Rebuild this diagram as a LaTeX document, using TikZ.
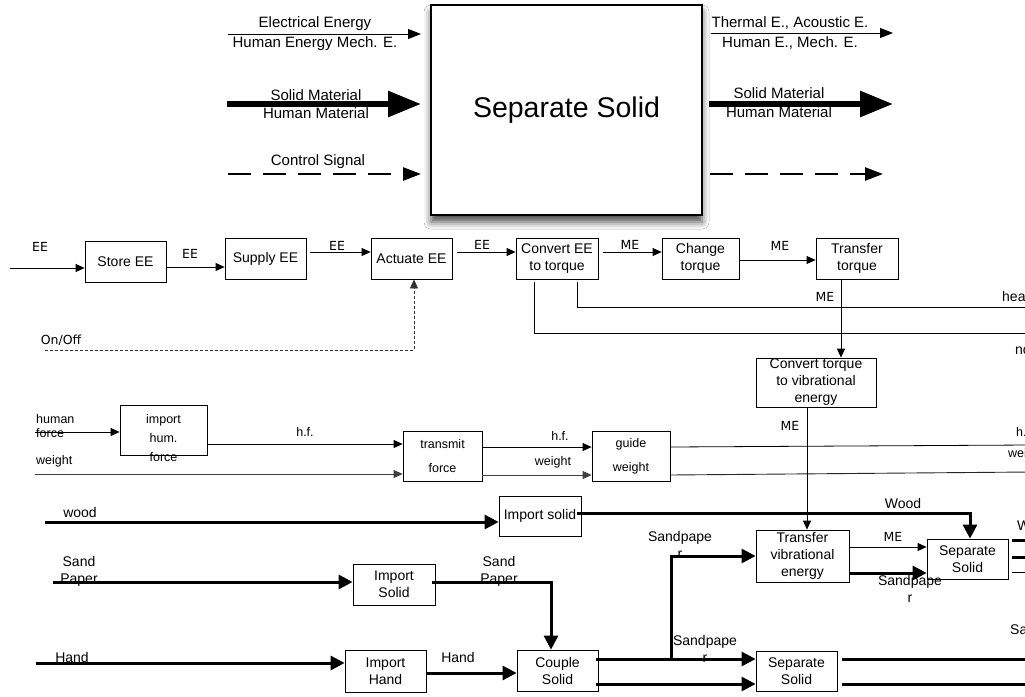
\documentclass[tikz,border=0pt]{standalone}
\usepackage{fontspec}
\setmainfont{Liberation Sans}
\newfontfamily\dejavu{DejaVu Sans}
\usetikzlibrary{arrows.meta,calc,shadows.blur}
\begin{document}
\begin{tikzpicture}[x=1pt,y=-1pt,
 box/.style={draw, line width=0.8pt, fill=white, inner sep=0pt, align=center, font=\fontsize{14}{17}\selectfont},
 lbl/.style={font=\fontsize{14}{17}\selectfont, inner sep=0pt, align=center},
 toplbl/.style={font=\fontsize{15}{17}\selectfont, inner sep=0pt},
 sm/.style={font=\fontsize{12.5}{14}\selectfont, inner sep=0pt, align=center},
 dv/.style={font=\dejavu\fontsize{12.5}{14}\selectfont, inner sep=0pt},
 farr/.style={line width=0.8pt, -{Triangle[length=9pt,width=8pt]}},
 fline/.style={line width=0.8pt},
 barr/.style={line width=3pt, -{Triangle[length=14pt,width=14pt]}},
 bline/.style={line width=3pt},
]
\useasboundingbox[fill=white] (0,0) rectangle (1025,696);

% ---------- top black box ----------
\node[draw, line width=1.6pt, fill=white, minimum width=271pt, minimum height=210pt,
  blur shadow={shadow xshift=0pt, shadow yshift=-7pt, shadow blur radius=7pt, shadow opacity=70},
  font=\fontsize{28.5}{30}\selectfont] (main) at (566.5,110) {Separate Solid};

% left inputs
\draw[line width=1pt, -{Triangle[length=13pt,width=10pt]}] (228,34) coordinate (li1) -- (421,34) coordinate (lo1);
\draw[line width=6pt, -{Triangle[length=33pt,width=25pt]}] (227,104) coordinate (li2) -- (421,104) coordinate (lo2);
\draw[line width=2.6pt, dash pattern=on 23pt off 12pt, -{Triangle[length=18pt,width=13pt]}] (228,174) coordinate (li3) -- (421,174) coordinate (lo3);
\node[toplbl] (t1) at (315,24) {Electrical Energy};
\node[toplbl] (t2) at (315,44) {Human Energy Mech. E.};
\node[toplbl] (t3) at (316,95) {Solid Material};
\node[toplbl] (t4) at (316,113) {Human Material};
\node[toplbl] (t5) at (318,162) {Control Signal};

% right outputs
\draw[line width=1pt, -{Triangle[length=13pt,width=10pt]}] (711,33) coordinate (ri1) -- (893,33) coordinate (ro1);
\draw[line width=6pt, -{Triangle[length=33pt,width=25pt]}] (709,104) coordinate (ri2) -- (893,104) coordinate (ro2);
\draw[line width=2.6pt, dash pattern=on 23pt off 12pt, -{Triangle[length=18pt,width=13pt]}] (710,174) coordinate (ri3) -- (883,174) coordinate (ro3);
\node[toplbl] (t6) at (790,23) {Thermal E., Acoustic E.};
\node[toplbl] (t7) at (790,43) {Human E., Mech. E.};
\node[toplbl] (t8) at (779,93) {Solid Material};
\node[toplbl] (t9) at (779,112) {Human Material};

% ---------- EE chain ----------
\node[box, minimum width=81pt, minimum height=41pt] (store) at (125.5,261.5) {Store EE};
\node[box, minimum width=81pt, minimum height=41pt] (supply) at (265.5,258.5) {Supply EE};
\node[box, minimum width=81pt, minimum height=41pt] (actuate) at (411.5,258.5) {Actuate EE};
\node[box, minimum width=82pt, minimum height=41pt] (convert) at (557,258.5) {Convert EE\\to torque};
\node[box, minimum width=77pt, minimum height=41pt] (change) at (700.5,258.5) {Change\\torque};
\node[box, minimum width=82pt, minimum height=41pt] (ttorque) at (857,258.5) {Transfer\\torque};
\node[box, minimum width=120pt, minimum height=49pt] (ctv) at (816,382.5) {Convert torque\\to vibrational\\energy};

\coordinate (eein) at (10,268);
\draw[farr] (eein) -- (store.west |- eein);
\draw[farr] (store.east |- 0,267) -- (supply.west |- 0,267);
\draw[farr] ($(supply.east |- 0,252)+(4,0)$) -- (actuate.west |- 0,252);
\draw[farr] ($(actuate.east |- 0,252)+(5,0)$) -- (convert.west |- 0,252);
\draw[farr] ($(convert.east |- 0,252)+(5,0)$) -- (change.west |- 0,252);
\draw[farr] (change.east |- 0,260) -- (ttorque.west |- 0,260);
\coordinate (onoff) at (45,350);
\draw[line width=0.8pt, black!80, dash pattern=on 3pt off 2pt, -{Triangle[length=9pt,width=8pt]}] (onoff) -| ($(actuate.south)+(2.5,0)$);
\coordinate (heatend) at (1030,307);
\coordinate (noiseend) at (1030,333);
\draw[fline] ($(convert.south)+(20,3)$) |- (heatend);
\draw[fline] ($(convert.south)+(-23,3)$) |- (noiseend);
\draw[farr] (ttorque.south -| 841,0) -- (ctv.north -| 841,0);

\node[dv] (ee1) at (40,247) {EE};
\node[dv] (ee2) at (190,254) {EE};
\node[dv] (ee3) at (337,246) {EE};
\node[dv] (ee4) at (482,245) {EE};
\node[dv] (me1) at (630,245) {ME};
\node[dv] (me2) at (780,246) {ME};
\node[dv] (me3) at (825,297) {ME};
\node[dv] (onofflbl) at (61,340) {On/Off};
\node[lbl, anchor=west] (heat) at (1002,296) {heat};
\node[lbl, anchor=west] (noise) at (1015,349) {noise};

% ---------- force row ----------
\node[draw, line width=0.8pt, minimum width=87pt, minimum height=50pt, inner sep=0pt] (ihf) at (163.5,430) {};
\node[sm, font=\fontsize{12.5}{19}\selectfont] (ihft) at (163.5,438) {import\\hum.\\force};
\node[box, minimum width=79pt, minimum height=50pt, font=\fontsize{12.5}{24}\selectfont] (transmit) at (442.5,456) {transmit\\force};
\node[box, minimum width=78pt, minimum height=50pt, font=\fontsize{12.5}{24}\selectfont] (guide) at (631,456) {guide\\weight};

\coordinate (hfin) at (35,432);
\coordinate (wtin) at (35,474);
\draw[farr] (hfin) -- (ihf.west |- hfin);
\draw[farr] (ihf.east |- 0,444) -- (transmit.west |- 0,444);
\draw[line width=0.9pt, black!75, -{Triangle[length=9pt,width=8pt]}] (wtin) -- (transmit.west |- wtin);
\draw[farr] (transmit.east |- 0,447) -- (guide.west |- 0,447);
\draw[line width=0.9pt, black!75, -{Triangle[length=9pt,width=8pt]}] (transmit.east |- 0,475) -- (guide.west |- 0,475);
\coordinate (hfout) at (1030,445);
\coordinate (wtout) at (1030,472);
\draw[fline] (guide.east |- 0,447) -- (hfout);
\draw[line width=0.9pt, black!85] (guide.east |- 0,475) -- (wtout);

\node[sm, align=left, anchor=west, font=\fontsize{12.5}{14}\selectfont] (hflbl) at (36,426) {human\\force};
\node[sm, anchor=west] (wtlbl) at (36,461) {weight};
\node[sm] (hf1) at (305,432) {h.f.};
\node[sm] (hf2) at (560,436) {h.f.};
\node[sm] (wt2) at (553,462) {weight};
\node[sm, anchor=west] (hf3) at (1016,432) {h.f.};
\node[sm, anchor=west] (wt3) at (1008,454) {weight};

% ---------- material rows ----------
\node[box, minimum width=82pt, minimum height=40pt] (isolid) at (540,516) {Import solid};
\node[box, minimum width=82pt, minimum height=41pt] (isolid2) at (394,584.5) {Import\\Solid};
\node[box, minimum width=81pt, minimum height=42pt] (ihand) at (385.5,671) {Import\\Hand};
\node[box, minimum width=81pt, minimum height=41pt] (couple) at (557.5,670.5) {Couple\\Solid};
\node[box, minimum width=93pt, minimum height=52pt] (tve) at (802.5,556) {Transfer\\vibrational\\energy};
\node[box, minimum width=81pt, minimum height=40pt] (sep1) at (967.5,559) {Separate\\Solid};
\node[box, minimum width=81pt, minimum height=40pt] (sep2) at (796.5,671) {Separate\\Solid};

% vibration ME
\draw[farr] (ctv.south -| 807,0) -- (tve.north -| 807,0);
\node[dv] (me4) at (790,426) {ME};

% wood
\coordinate (woodin) at (45,522);
\draw[barr] (woodin) -- (isolid.west |- woodin);
\draw[bline, -{Triangle[length=14pt,width=14pt]}] ($(isolid.east |- 0,513)+(-4,0)$) -| ($(sep1.north)+(2.5,0)$);
\node[lbl] (woodl) at (80,512) {wood};
\node[lbl] (woodl2) at (903,503) {Wood};

% sandpaper
\coordinate (sandin) at (53,582);
\draw[barr] (sandin) -- (isolid2.west |- sandin);
\draw[bline, -{Triangle[length=14pt,width=14pt]}] ($(isolid2.east |- 0,582)+(-3,0)$) -| ($(couple.north)+(-6.5,0)$);
\node[lbl] (sandl) at (79,571) {Sand\\Paper};
\node[lbl] (sandl2) at (499,571) {Sand\\Paper};

% hand
\coordinate (handin) at (36,663);
\draw[barr] (handin) -- (ihand.west |- handin);
\draw[barr] (ihand.east |- 0,673) -- (couple.west |- 0,673);
\node[lbl] (handl) at (72,657) {Hand};
\node[lbl] (handl2) at (458,657) {Hand};

% couple outputs
\coordinate (br) at (671,659);
\draw[barr] ($(couple.east |- 0,659)+(-2,0)$) -- (sep2.west |- 0,659);
\draw[barr] (br) |- (tve.west |- 0,556);
\draw[barr] ($(couple.east |- 0,684)+(-2,0)$) -- (sep2.west |- 0,684);
\node[lbl, font=\fontsize{14}{17}\selectfont] (sp1) at (680,545) {Sandpape\\r};
\node[lbl, font=\fontsize{14}{17}\selectfont] (sp2) at (705,649) {Sandpape\\r};
\node[lbl] (handl3) at (620,703) {Hand};

% tve outputs
\draw[farr] (tve.east |- 0,547) -- (sep1.west |- 0,547);
\draw[barr] (tve.east |- 0,573) -- (sep1.west |- 0,573);
\node[dv] (me5) at (893,537) {ME};
\node[lbl, font=\fontsize{14}{17}\selectfont] (sp3) at (910,589) {Sandpape\\r};

% sep1 outputs
\draw[bline] ($(sep1.east |- 0,540)+(4,0)$) -- (1030,540) coordinate (s1o1);
\draw[bline] ($(sep1.east |- 0,557)+(4,0)$) -- (1030,557) coordinate (s1o2);
\draw[fline] ($(sep1.east |- 0,572)+(4,0)$) -- (1030,572) coordinate (s1o3);
\node[lbl, anchor=west] (woodr) at (1017,525) {Wood};

% sep2 outputs
\draw[bline] ($(sep2.east |- 0,659)+(5,0)$) -- (1030,659) coordinate (s2o1);
\draw[bline] ($(sep2.east |- 0,684)+(5,0)$) -- (1030,684) coordinate (s2o2);
\node[lbl, anchor=west] (sandr) at (1010,631) {Sandpaper};
\end{tikzpicture}
\end{document}
